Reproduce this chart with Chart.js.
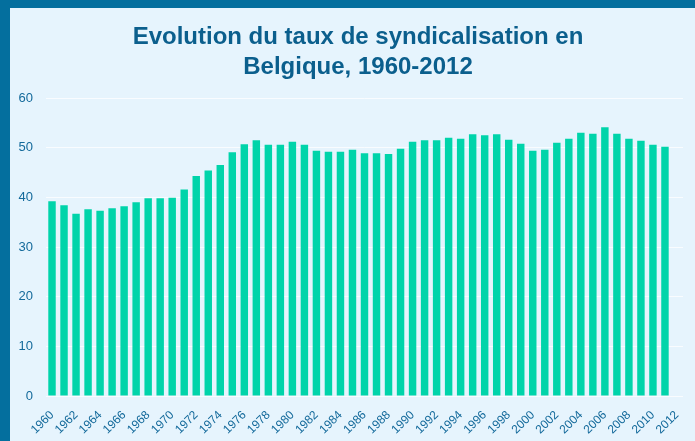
<!DOCTYPE html>
<html>
<head>
<meta charset="utf-8">
<script src="https://cdn.jsdelivr.net/npm/chart.js@4"></script>
<style>
    html, body { margin: 0; padding: 0; }
    body { width: 695px; height: 441px; background: #046f9e; overflow: hidden; position: relative; }
    .frame { position: absolute; left: 10px; top: 8px; width: 685px; height: 433px; background: #e6f4fd; }
</style>
</head>
<body>
<div class="frame"><canvas id="unionChart"></canvas></div>
<script>
// Taux de syndicalisation (%) par année
const years = [];
for (let y = 1960; y <= 2012; y++) years.push(String(y));

const rates = [
    39.2, 38.4, 36.7, 37.6, 37.3, 37.8, 38.2, 39.0, 39.8, 39.8,
    39.9, 41.6, 44.3, 45.4, 46.5, 49.1, 50.7, 51.5, 50.6, 50.6,
    51.2, 50.6, 49.4, 49.2, 49.2, 49.6, 48.9, 48.9, 48.7, 49.8,
    51.2, 51.5, 51.5, 52.0, 51.8, 52.7, 52.5, 52.7, 51.6, 50.8,
    49.4, 49.6, 51.0, 51.8, 53.0, 52.8, 54.1, 52.8, 51.8, 51.4,
    50.6, 50.2, null
];

const yTicks = [0, 10, 20, 30, 40, 50, 60];
const titleLines = ["Evolution du taux de syndicalisation en", "Belgique, 1960-2012"];

// title drawn by hand so it can sit a bit right of the canvas centre, like the original
const titlePlugin = {
    id: "centredTitle",
    afterDraw(chart) {
        const c = chart.ctx;
        c.save();
        c.fillStyle = "#0b5f8d";
        c.font = "bold 24px 'Liberation Sans', Arial, sans-serif";
        c.textAlign = "center";
        c.textBaseline = "alphabetic";
        const cx = (chart.width + 11) / 2;
        titleLines.forEach((line, i) => c.fillText(line, cx, 36 + i * 30));
        c.restore();
    }
};

document.addEventListener("DOMContentLoaded", function () {
    const ctx = document.getElementById("unionChart").getContext("2d");

    new Chart(ctx, {
        type: "bar",
        data: {
            labels: years,
            datasets: [{
                data: rates,
                backgroundColor: "#00d4aa",
                barPercentage: 0.62,
                categoryPercentage: 1
            }]
        },
        options: {
            responsive: true,
            maintainAspectRatio: false,
            animation: false,
            devicePixelRatio: 1,
            layout: { padding: { left: 0, right: 12, top: 90, bottom: 0 } },
            plugins: {
                legend: { display: false },
                tooltip: { enabled: false },
                title: { display: false }
            },
            scales: {
                x: {
                    grid: { display: false },
                    border: { display: false },
                    afterFit: function (scale) { scale.height = 45; },
                    ticks: {
                        autoSkip: false,
                        minRotation: 45,
                        maxRotation: 45,
                        padding: 4,
                        color: "#146a9b",
                        font: { family: "'Liberation Sans', Arial, sans-serif", size: 12 },
                        callback: function (val, i) { return i % 2 === 0 ? years[i] : null; }
                    }
                },
                y: {
                    min: 0,
                    max: 60,
                    afterFit: function (scale) { scale.width = 36; },
                    afterBuildTicks: function (scale) { scale.ticks = yTicks.map(v => ({ value: v })); },
                    grid: { color: "rgba(255,255,255,0.75)", drawTicks: false },
                    border: { display: false },
                    ticks: {
                        padding: 13,
                        color: "#146a9b",
                        font: { family: "'Liberation Sans', Arial, sans-serif", size: 13 }
                    }
                }
            }
        },
        plugins: [titlePlugin]
    });
});
</script>
</body>
</html>
